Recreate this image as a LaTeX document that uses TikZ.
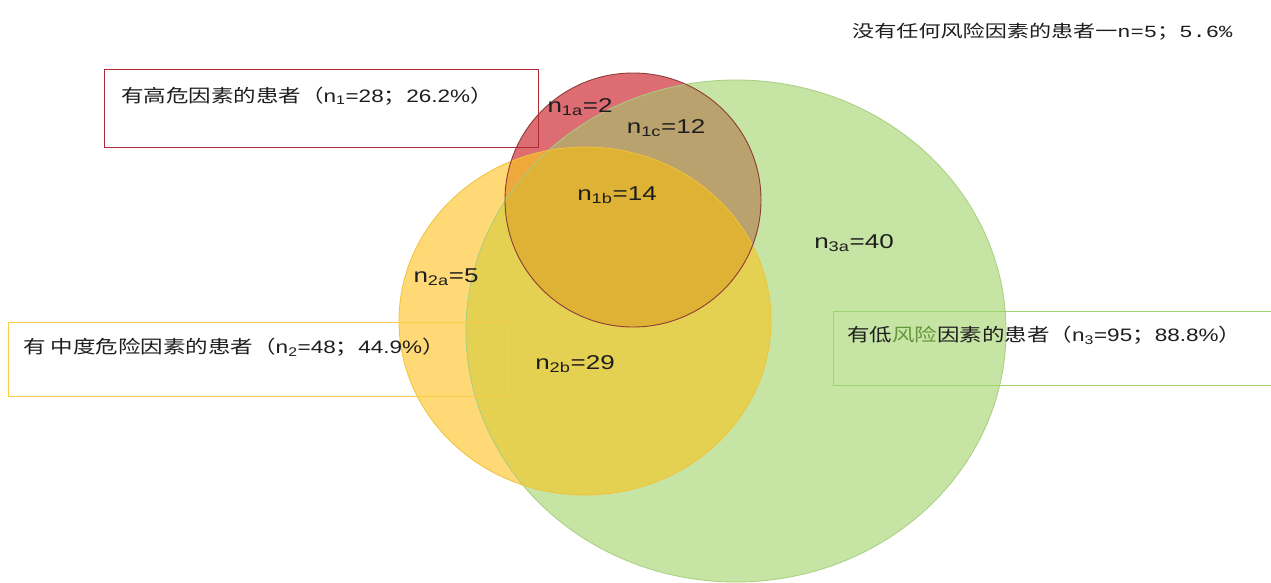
\documentclass[tikz,border=0pt]{standalone}
\usepackage{fontspec}
\usepackage{graphicx}
\setmainfont{Liberation Sans}
\newfontfamily\cjk{Noto Sans CJK SC}
\newfontfamily\monof{Liberation Mono}
\newcommand\wide[2][1.3]{\scalebox{#1}[1]{#2}}
\definecolor{cG}{RGB}{198,228,163}
\definecolor{cGline}{RGB}{168,206,128}
\definecolor{cY}{RGB}{254,217,118}
\definecolor{cYline}{RGB}{240,194,60}
\definecolor{cYG}{RGB}{228,209,82}
\definecolor{cR}{RGB}{222,108,115}
\definecolor{cRline}{RGB}{140,62,55}
\definecolor{cRG}{RGB}{186,162,110}
\definecolor{cRY}{RGB}{238,168,60}
\definecolor{cRYG}{RGB}{222,178,52}
\definecolor{bR}{RGB}{175,40,50}
\definecolor{bY}{RGB}{250,205,70}
\definecolor{bG}{RGB}{160,210,110}
\definecolor{txt}{RGB}{30,30,30}
\definecolor{gtxt}{RGB}{100,150,60}
\begin{document}
\begin{tikzpicture}[x=1pt,y=-1pt,
  lbl/.style={font=\fontsize{20}{20}\selectfont, text=txt, inner sep=0pt},
  boxtxt/.style={font=\fontsize{18}{18}\selectfont, text=txt, anchor=west, inner sep=0pt},
  frame/.style={draw=#1, line width=1pt, anchor=north west, inner sep=0pt, outer sep=0pt}]
\useasboundingbox (0,0) rectangle (1271,583);
\fill[white] (0,0) rectangle (1271,583);
% ellipses
\def\Gpath{(736,331) ellipse [x radius=270pt, y radius=251pt]}
\def\Ypath{(585,321) ellipse [x radius=186pt, y radius=174pt]}
\def\Rpath{(633,200) ellipse [x radius=128pt, y radius=127pt]}
\fill[cG] \Gpath;
\fill[cY] \Ypath;
\begin{scope}\clip \Gpath; \fill[cYG] \Ypath; \end{scope}
\fill[cR] \Rpath;
\begin{scope}\clip \Rpath; \fill[cRG] \Gpath; \end{scope}
\begin{scope}\clip \Rpath; \fill[cRY] \Ypath; \end{scope}
\begin{scope}\clip \Rpath; \clip \Gpath; \fill[cRYG] \Ypath; \end{scope}
\draw[cGline, line width=0.8pt] \Gpath;
\draw[cYline, line width=0.8pt] \Ypath;
\draw[cRline, line width=0.9pt] \Rpath;
% boxes
\node[frame=bR, minimum width=434pt, minimum height=77pt] (redbox) at (104,70) {};
\node[frame=bY, minimum width=499pt, minimum height=74pt] (yelbox) at (8,322) {};
\node[frame=bG, minimum width=450pt, minimum height=74pt] (grnbox) at (833,311) {};
\node[boxtxt] (redtxt) at (121,96) {\wide[1.25]{{\cjk 有高危因素的患者（}n\textsubscript{1}=28{\cjk ；}26.2\%{\cjk ）}}};
\node[boxtxt] (yeltxt) at (23,347) {\wide[1.25]{{\cjk 有 中度危险因素的患者（}n\textsubscript{2}=48{\cjk ；}44.9\%{\cjk ）}}};
\node[boxtxt] (grntxt) at (847,335) {\wide[1.25]{{\cjk 有低\textcolor{gtxt}{风险}因素的患者（}n\textsubscript{3}=95{\cjk ；}88.8\%{\cjk ）}}};
\node[boxtxt, font=\fontsize{17}{17}\selectfont] (nonetxt) at (852,32) {\wide[1.3]{{\cjk 没有任何风险因素的患者一}{\monof n=5}{\cjk ；}{\monof 5.6\%}}};
% region labels
\node[lbl] (n1a) at (580,107) {\wide{n\textsubscript{1a}=2}};
\node[lbl] (n1c) at (666,128) {\wide{n\textsubscript{1c}=12}};
\node[lbl] (n1b) at (617,195) {\wide{n\textsubscript{1b}=14}};
\node[lbl] (n3a) at (854,243) {\wide{n\textsubscript{3a}=40}};
\node[lbl] (n2a) at (446,277) {\wide{n\textsubscript{2a}=5}};
\node[lbl] (n2b) at (575,364) {\wide{n\textsubscript{2b}=29}};
\end{tikzpicture}
\end{document}
